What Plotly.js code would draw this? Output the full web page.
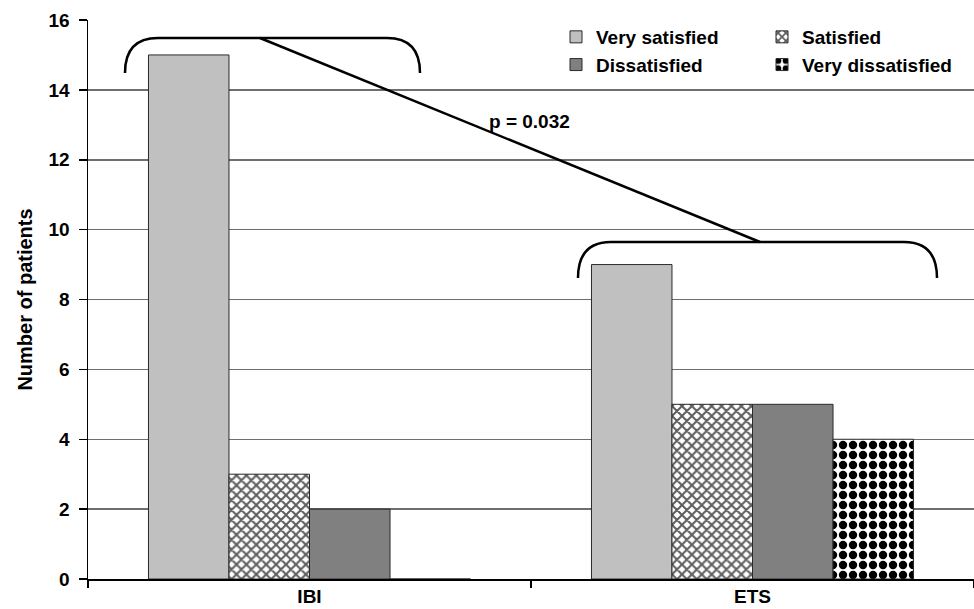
<!DOCTYPE html>
<html>
<head>
<meta charset="utf-8">
<script src="https://cdn.plot.ly/plotly-3.0.1.min.js"></script>
<style>html,body{margin:0;padding:0;background:#fff;}#chart{width:974px;height:609px;}</style>
</head>
<body>
<div id="chart"></div>
<script>
// ---- data ----
var categories = ["IBI", "ETS"];
var seriesNames = ["Very satisfied", "Satisfied", "Dissatisfied", "Very dissatisfied"];
var verySatisfied = [15, 9];
var satisfied = [3, 5];
var dissatisfied = [2, 5];
var veryDissatisfied = [0, 4];
var yTicks = [0, 2, 4, 6, 8, 10, 12, 14, 16];
var pValueLabel = "p = 0.032";

// ---- styles ----
var FONT = "Liberation Sans, Arial, sans-serif";
var W = 974, H = 609;
var M = {l: 88, r: 0, t: 20, b: 30};
var PW = W - M.l - M.r, PH = H - M.t - M.b;
function px(x) { return (x - M.l) / PW; }
function py(y) { return (H - M.b - y) / PH; }
function path(cmds) {
  return cmds.map(function (c) {
    var out = c[0];
    for (var i = 1; i < c.length; i += 2) {
      out += (i > 1 ? " " : "") + px(c[i]).toFixed(5) + "," + py(c[i + 1]).toFixed(5);
    }
    return out;
  }).join(" ");
}

var outline = {color: "#2a2a2a", width: 1};
var seriesValues = [verySatisfied, satisfied, dissatisfied, veryDissatisfied];
var markers = [
  {color: "#c0c0c0", line: outline},
  {color: "#ffffff", line: outline, pattern: {shape: "x", fgcolor: "#5e5e5e", bgcolor: "#ffffff", size: 7, solidity: 0.5}},
  {color: "#808080", line: outline},
  {color: "#ffffff", line: outline, pattern: {shape: ".", fgcolor: "#000000", bgcolor: "#ffffff", size: 10, solidity: 0.55}}
];
var legendIds = ["legend", "legend2", "legend", "legend2"];

var traces = seriesNames.map(function (name, i) {
  return {
    type: "bar",
    name: name,
    x: categories,
    y: seriesValues[i],
    marker: markers[i],
    legend: legendIds[i],
    legendgroup: "g" + i,
    hoverinfo: "x+y+name"
  };
});

var bracketLine = {color: "#000000", width: 2.5};
var shapes = [
  {type: "path", xref: "paper", yref: "paper", line: bracketLine,
   path: path([["M", 125, 73], ["Q", 125, 38, 158, 38], ["L", 387, 38], ["Q", 420, 38, 420, 73]])},
  {type: "path", xref: "paper", yref: "paper", line: bracketLine,
   path: path([["M", 578, 278], ["Q", 578, 242, 611, 242], ["L", 904, 242], ["Q", 937, 242, 937, 278]])},
  {type: "line", xref: "paper", yref: "paper", line: bracketLine,
   x0: px(260), y0: py(38), x1: px(760), y1: py(242)}
];

function legendAt(xPix) {
  return {
    orientation: "v",
    x: px(xPix), y: py(18), xanchor: "left", yanchor: "top",
    bgcolor: "rgba(255,255,255,0)",
    font: {family: FONT, size: 19, weight: "bold", color: "#000"},
    tracegroupgap: 8,
    traceorder: "normal",
    itemclick: false
  };
}

var layout = {
  width: W, height: H,
  margin: M,
  paper_bgcolor: "#ffffff",
  plot_bgcolor: "#ffffff",
  font: {family: FONT, color: "#000000", size: 19, weight: "bold"},
  barmode: "group",
  bargap: 0.273,
  bargroupgap: 0,
  showlegend: true,
  legend: legendAt(556),
  legend2: legendAt(762),
  xaxis: {
    type: "category",
    showline: true, linecolor: "#000000", linewidth: 1.5,
    ticks: "outside", tickson: "boundaries", ticklen: 7, tickcolor: "#000", tickwidth: 1.5,
    showgrid: false,
    tickfont: {family: FONT, size: 19, weight: "bold"},
    fixedrange: true
  },
  yaxis: {
    range: [0, 16],
    tickvals: yTicks,
    showline: true, linecolor: "#000000", linewidth: 1.5,
    ticks: "outside", ticklen: 8, tickcolor: "#000", tickwidth: 1.5,
    showgrid: true, gridcolor: "#6e6e6e", gridwidth: 1.5,
    zeroline: false,
    tickfont: {family: FONT, size: 19, weight: "bold"},
    ticklabelstandoff: 5,
    title: {text: "Number of patients", font: {family: FONT, size: 20, weight: "bold"}, standoff: 10},
    fixedrange: true
  },
  shapes: shapes,
  annotations: [
    {xref: "paper", yref: "paper", x: px(487), y: py(122), xanchor: "left", yanchor: "middle",
     text: pValueLabel, showarrow: false, font: {family: FONT, size: 19, weight: "bold", color: "#000"}}
  ]
};

Plotly.newPlot("chart", traces, layout, {displayModeBar: false, staticPlot: true});
</script>
</body>
</html>
